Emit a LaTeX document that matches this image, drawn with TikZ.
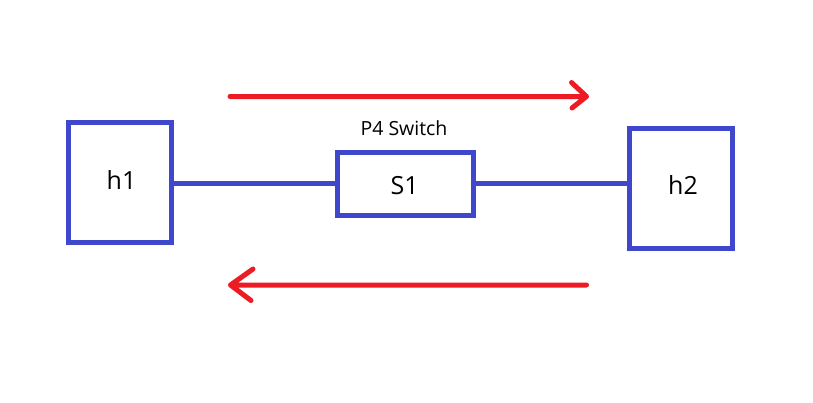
\documentclass[tikz,border=0pt]{standalone}
\usepackage{fontspec}
\setmainfont{Open Sans}
\definecolor{pblue}{HTML}{3F48CC}
\definecolor{pred}{HTML}{ED1C24}
\begin{document}
\begin{tikzpicture}[x=1pt,y=-1pt,
  hostbox/.style={draw=pblue,line width=5pt,minimum width=103pt,minimum height=119.5pt,inner sep=0pt},
  swbox/.style={draw=pblue,line width=5pt,minimum width=135.5pt,minimum height=63pt,inner sep=0pt},
  lab/.style={anchor=base,inner sep=0pt,font=\fontsize{25}{25}\selectfont},
  link/.style={draw=pblue,line width=5pt},
  flow/.style={draw=pred,line width=5pt,line cap=round,line join=round}]
\useasboundingbox[fill=white] (0,0) rectangle (813,402);
\node[hostbox] (h1) at (120,182.25) {};
\node[swbox] (s1) at (405.25,183.5) {};
\node[hostbox] (h2) at (680.5,188.25) {};
\node[lab] (h1lab) at (121.5,189) {h1};
\node[lab] (s1lab) at (404.7,194) {S1};
\node[lab] (h2lab) at (683,194) {h2};
\node[anchor=base,inner sep=0pt,font=\fontsize{19.5}{19.5}\selectfont] (s1name) at (404,135.7) {P4 Switch};
\draw[link] (s1.west) -- (s1.west -| h1.east);
\draw[link] (s1.east) -- (s1.east -| h2.west);
\coordinate (ta) at (230,96.5);
\coordinate (tb) at (586.5,96.5);
\coordinate (tu) at (571.5,82.5);
\coordinate (td) at (572,108);
\draw[flow] (ta) -- (tb) (tu) -- (tb) -- (td);
\coordinate (ba) at (586.5,285);
\coordinate (bb) at (230.5,285);
\coordinate (bu) at (253,269);
\coordinate (bd) at (251,300.5);
\draw[flow] (ba) -- (bb) (bu) -- (bb) -- (bd);
\end{tikzpicture}
\end{document}
